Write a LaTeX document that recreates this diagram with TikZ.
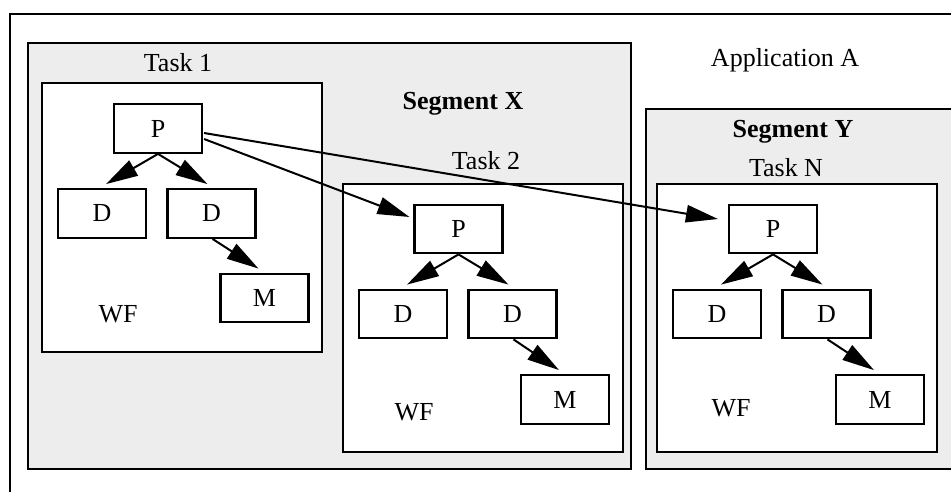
\documentclass[tikz,border=0pt]{standalone}
\usepackage{fontspec}
\setmainfont{Liberation Serif}
\usetikzlibrary{arrows.meta,fit,calc}
\tikzset{
  segbox/.style={draw=black, line width=1.6pt, fill=gray!14, inner sep=0pt},
  taskbox/.style={draw=black, line width=1.6pt, fill=white, inner sep=0pt},
  elem/.style={draw=black, line width=1.6pt, fill=white, minimum width=66pt, minimum height=36.5pt, inner sep=0pt},
  lbl/.style={anchor=base, inner sep=0pt},
  arr/.style={line width=1.5pt, -{Triangle[length=24pt,width=13pt]}},
}
\begin{document}
\begin{tikzpicture}[x=0.75pt,y=-0.75pt,font=\fontsize{19.5}{23}\selectfont]
\useasboundingbox (0,0) rectangle (951,492);
\clip (0,0) rectangle (951,492);
% outer application frame
\draw[line width=1.6pt] (10,14) rectangle (965,505);
\node[lbl] (appA) at (785,67) {Application A};
% segments
\node[segbox, fit={(28,43) (631,469)}] (segX) {};
\node[segbox, fit={(646,109) (965,469)}] (segY) {};
\node[lbl] (segXl) at (463,110) {\textbf{Segment X}};
\node[lbl] (segYl) at (793,138) {\textbf{Segment Y}};
% tasks
\node[taskbox, fit={(42,83) (322,352)}] (t1) {};
\node[taskbox, fit={(343,184) (623,452)}] (t2) {};
\node[taskbox, fit={(657,184) (937,452)}] (tn) {};
\node[lbl] (t1l) at (178,72) {Task 1};
\node[lbl] (t2l) at (486,170) {Task 2};
\node[lbl] (tnl) at (786,176) {Task N};
% task 1 contents
\node[elem] (p1) at (158,128.5) {P};
\node[elem] (d11) at (102,213.5) {D};
\node[elem] (d12) at (211.5,213.5) {D};
\node[elem] (m1) at (264.5,298) {M};
\node[lbl] (wf1) at (118,322) {WF};
% task 2 contents
\node[elem] (p2) at (458.5,229) {P};
\node[elem] (d21) at (403,314) {D};
\node[elem] (d22) at (512.5,314) {D};
\node[elem] (m2) at (565,399.5) {M};
\node[lbl] (wf2) at (414,420) {WF};
% task N contents
\node[elem] (pn) at (773,229) {P};
\node[elem] (dn1) at (717,314) {D};
\node[elem] (dn2) at (826.5,314) {D};
\node[elem] (mn) at (880,399.5) {M};
\node[lbl] (wfn) at (731,416) {WF};
% arrows inside tasks
\foreach \p/\da/\db/\m in {p1/d11/d12/m1, p2/d21/d22/m2, pn/dn1/dn2/mn}{
  \draw[arr] (\p.south) -- ($(\da.north)+(4,-4)$);
  \draw[arr] (\p.south) -- ($(\db.north)+(-4,-4)$);
  \draw[arr] ($(\db.south)+(1,0)$) -- ($(\m.north)+(-6,-4)$);
}
% arrows between tasks
\draw[arr] ($(p1.east)+(1,4.5)$) -- ($(pn.west)+(-10,-10)$);
\draw[arr] ($(p1.east)+(1,10.5)$) -- ($(p2.west)+(-4,-12)$);
\end{tikzpicture}
\end{document}
